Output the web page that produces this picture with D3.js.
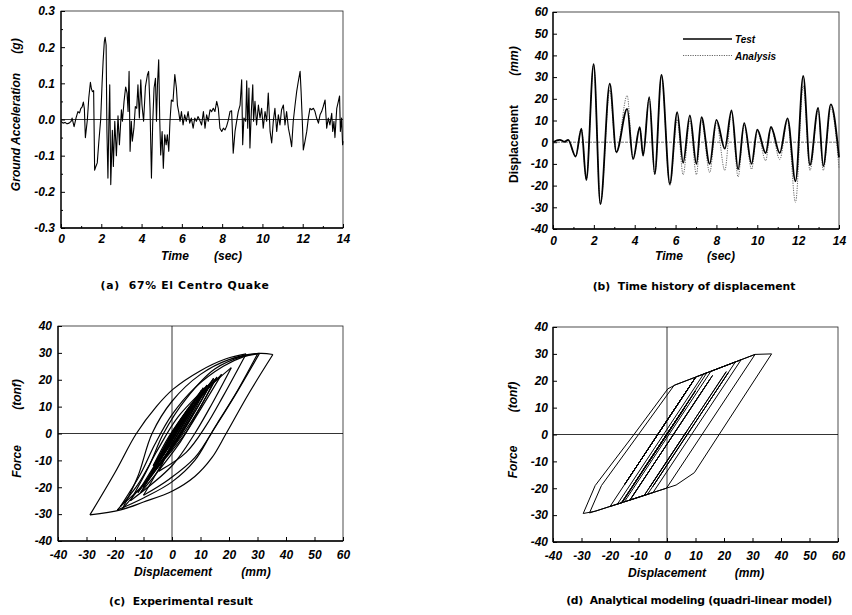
<!DOCTYPE html>
<html><head><meta charset="utf-8">
<script src="https://cdn.jsdelivr.net/npm/d3@7"></script>
<style>
body{margin:0;background:#fff;}
svg{display:block;font-family:"Liberation Sans",Arial,sans-serif;}
.tick text{font-size:12px;font-weight:bold;font-style:italic;fill:#000;}
.tick line{stroke:#000;}
.cap{font-family:"DejaVu Sans",sans-serif;white-space:pre;}
</style></head><body>
<svg id="chart" width="852" height="615"></svg>
<script>
// ---------- DATA ----------
const timeTicks = [0,2,4,6,8,10,12,14];
const timeMinor = [1,3,5,7,9,11,13];
const accTicks = [-0.3,-0.2,-0.1,0,0.1,0.2,0.3];
const accMinor = [-0.25,-0.15,-0.05,0.05,0.15,0.25];
const dispTicks = [-40,-30,-20,-10,0,10,20,30,40,50,60];
const forceTicks = [-40,-30,-20,-10,0,10,20,30,40];
const hystDispTicks = [-40,-30,-20,-10,0,10,20,30,40,50,60];

// (a) ground acceleration (g)
const accTime = [0,0.1,0.2,0.3,0.4,0.5,0.55,0.65,0.75,0.84,0.92,0.98,1.05,1.11,1.16,1.21,1.31,1.38,1.46,1.51,1.56,1.62,1.67,1.73,1.80,1.88,1.97,2.04,2.09,2.15,2.19,2.24,2.28,2.33,2.38,2.42,2.47,2.55,2.6,2.67,2.75,2.83,2.9,3.0,3.05,3.13,3.21,3.28,3.33,3.38,3.43,3.49,3.54,3.62,3.69,3.76,3.82,3.89,3.96,4.02,4.1,4.19,4.29,4.35,4.42,4.49,4.55,4.62,4.69,4.74,4.79,4.85,4.9,4.95,5.02,5.08,5.15,5.22,5.28,5.35,5.41,5.48,5.56,5.65,5.73,5.78,5.84,5.91,5.98,6.06,6.14,6.22,6.31,6.39,6.47,6.56,6.64,6.72,6.8,6.88,6.98,7.07,7.15,7.23,7.31,7.40,7.48,7.56,7.64,7.73,7.81,7.89,7.98,8.06,8.14,8.22,8.31,8.39,8.47,8.55,8.64,8.72,8.80,8.89,8.97,9.02,9.08,9.17,9.22,9.27,9.33,9.38,9.45,9.52,9.56,9.63,9.71,9.80,9.88,9.96,10.04,10.13,10.21,10.29,10.38,10.46,10.54,10.62,10.71,10.79,10.87,10.95,11.04,11.12,11.20,11.29,11.37,11.45,11.53,11.62,11.70,11.78,11.87,11.92,11.98,12.03,12.11,12.20,12.28,12.36,12.44,12.53,12.61,12.69,12.78,12.86,12.94,13.02,13.11,13.19,13.27,13.35,13.44,13.49,13.55,13.60,13.69,13.77,13.83,13.87,13.93,13.98,14.0];
const accValue = [-0.005,-0.01,-0.008,-0.012,-0.01,-0.005,0.004,-0.02,0.005,0.022,0.018,0.03,0.035,0.048,0.03,-0.05,0.0,0.06,0.103,0.085,0.077,0.08,-0.14,-0.13,-0.12,-0.06,0.0,0.1,0.16,0.215,0.227,0.206,-0.033,-0.162,0.0,0.096,-0.18,-0.03,-0.13,-0.005,-0.1,0.01,-0.07,0.027,-0.005,0.05,0.09,0.073,0.022,0.133,-0.088,-0.005,-0.06,-0.024,0.036,0.031,0.096,0.004,0.11,0.04,-0.005,0.09,0.123,0.133,0.031,-0.162,-0.015,0.087,0.114,-0.005,0.096,0.165,0.004,-0.098,-0.033,-0.135,-0.042,-0.07,-0.042,-0.088,-0.005,0.054,0.05,0.124,0.087,0.04,0.022,-0.005,0.022,-0.015,0.013,-0.005,0.022,-0.01,0.004,-0.024,0.004,-0.005,0.008,-0.001,-0.015,0.022,-0.024,0.013,-0.005,0.027,0.022,0.031,0.022,0.05,0.031,-0.024,-0.033,-0.024,-0.029,-0.019,-0.001,0.022,0.024,-0.093,-0.033,-0.005,0.022,0.04,0.11,-0.07,0.004,-0.005,0.107,-0.024,0.087,-0.079,0.022,0.096,-0.005,0.05,-0.015,0.04,0.004,0.031,-0.024,0.022,-0.005,0.073,-0.033,-0.065,-0.005,0.031,-0.033,0.013,-0.015,0.027,0.04,-0.015,0.022,-0.024,-0.047,-0.075,-0.005,0.04,0.077,0.105,0.133,0.077,-0.005,-0.084,-0.061,-0.033,0.004,0.031,0.027,0.031,0.022,0.004,-0.01,0.013,0.022,0.036,0.054,-0.024,0.004,-0.015,0.017,-0.033,-0.005,-0.05,0.031,0.05,0.065,-0.033,0.004,-0.07,-0.06];

// (b) displacement time history (mm), extrema
const testTime = [0,0.33,0.57,0.74,1.11,1.39,1.63,1.99,2.32,2.78,3.10,3.63,3.92,4.25,4.41,4.71,4.98,5.31,5.72,6.08,6.37,6.70,7.02,7.27,7.67,8.0,8.41,8.74,9.06,9.36,9.72,10.0,10.41,10.67,11.1,11.48,11.87,12.25,12.58,12.98,13.23,13.6,14.0];
const testDisp = [0,1.1,0.2,1.1,-6.6,6.2,-17.4,36,-28.5,27,-4.6,15.4,-7.7,6.9,-6.2,20.8,-14.6,31,-19.2,13.8,-9.5,12.3,-10,11.5,-10,10.3,-3,14.6,-12.5,8.8,-10,5.8,-5,7,-5,11,-18,30.5,-10.5,15.8,-11,17.4,-7];
const analysisTime = [0,0.33,0.57,0.74,1.11,1.39,1.63,1.99,2.32,2.78,3.10,3.63,3.92,4.25,4.41,4.71,4.98,5.31,5.72,6.08,6.37,6.70,7.02,7.27,7.67,8.0,8.41,8.74,9.06,9.36,9.72,10.0,10.41,10.67,11.1,11.48,11.87,12.25,12.58,12.98,13.23,13.6,14.0];
const analysisDisp = [0,1.1,0.2,1.1,-6.6,6.2,-17.4,36,-28.5,24,-5,21.5,-8,7,-6,20.5,-15,30.5,-20,10.5,-15,10,-15,10,-14,9,-13,14,-16,8,-12.5,5,-8.5,6.5,-8,10,-27.7,26,-13,15,-13,16,-12];
const seriesNames = ["Test","Analysis"];

// (c) experimental hysteresis branches [disp mm, force tonf]
const hystTest = [
 [[0,0],[1,2]],
 [[1,2],[-2,-4],[-6.6,-12]],
 [[-6.6,-12],[-1,-1],[6.2,10]],
 [[6.2,10],[0,-3],[-8,-16],[-17.4,-28]],
 [[-17.4,-28],[-12,-16],[-7,0],[0,12],[10,22],[20,27.5],[30.7,29.8],[35.4,29.4]],
 [[35.4,29.4],[27,15],[19,0],[14,-9],[8,-16],[0,-21.5],[-10,-25.5],[-18,-28.4],[-28.8,-30.3]],
 [[-28.8,-30.3],[-20,-14.5],[-12.5,0],[-5.5,10],[0.4,16.5],[9.7,23.2],[19,27.8],[26,29.6]],
 [[26,29.6],[18,14],[12,3],[5,-7],[-4.6,-14]],
 [[-4.6,-14],[0,-4],[6,7],[15,20]],
 [[15,20],[10,10],[4,0],[-7.7,-16]],
 [[-7.7,-16],[-2,-5],[6.9,10]],
 [[6.9,10],[2,1],[-6.2,-12]],
 [[-6.2,-12],[0,0],[8,12],[20.8,24.5]],
 [[20.8,24.5],[14,11],[8,0],[0,-12],[-14.6,-25]],
 [[-14.6,-25],[-8,-12],[-3,0],[5,13],[15,24],[25,28.8],[30.7,29.8]],
 [[30.7,29.8],[22,14],[13.8,0],[8,-10],[0,-18],[-10,-24],[-19.2,-28.5]],
 [[-19.2,-28.5],[-12,-19],[-5,-6],[2,6],[13.8,19]],
 [[13.8,19],[8,8],[2,-2],[-9,-18]],
 [[-9,-18],[-3,-6],[3,5],[12.3,18]],
 [[12.3,18],[6,5],[0,-5],[-10,-20]],
 [[-10,-20],[-2,-6],[4,6],[11.5,17]],
 [[11.5,17],[5,4],[-1,-6],[-10,-19.5]],
 [[-10,-19.5],[-3,-7],[3,4],[10.3,16]],
 [[10.3,16],[4,3],[-3,-8]],
 [[-3,-8],[3,3],[8,11],[14.6,20.5]],
 [[14.6,20.5],[8,8],[1,-4],[-12,-22]],
 [[-12,-22],[-5,-10],[1,0],[8.5,13]],
 [[8.5,13],[3,3],[-3,-7],[-10,-20]],
 [[-10,-20],[-3,-7],[5.5,9]],
 [[5.5,9],[0,-1],[-6,-12]],
 [[-6,-12],[0,-1],[6.9,11]],
 [[6.9,11],[1,0],[-5,-10]],
 [[-5,-10],[1,2],[11,17]],
 [[11,17],[5,4],[-2,-8],[-10,-19],[-18,-27]],
 [[-18,-27],[-11,-15],[-6,-4],[0,7],[8,17],[18,25],[25,28.5],[30,29.6]],
 [[30,29.6],[23,16],[16,4],[8,-9],[-1,-17],[-10,-23]],
 [[-10,-23],[-4,-12],[2,0],[8,11],[15.8,21]],
 [[15.8,21],[9,8],[3,-3],[-11,-22]],
 [[-11,-22],[-5,-11],[1,0],[8,11],[17.4,22]],
 [[17.4,22],[10,9],[4,-1],[-7,-15]]
];

// (d) analytical quadri-linear hysteresis branches
const hystModel = [
 [[0,0],[1,1.6]],
 [[1,1.6],[-6.6,-10.6]],
 [[-6.6,-10.6],[6.2,9.9]],
 [[6.2,9.9],[-15.8,-25.4],[-17.4,-25.9]],
 [[-17.4,-25.9],[12.85,22.5],[30.9,29.8],[36.7,30]],
 [[36.7,30],[18.3,0],[9.6,-14.2],[3.2,-18.8],[-25,-28.5],[-29.4,-29.4]],
 [[-29.4,-29.4],[-25.2,-19],[-11.6,0],[0.3,17],[3,18.5],[24,27]],
 [[24,27],[-5,-19.4]],
 [[-5,-19.4],[21.5,23]],
 [[21.5,23],[-6.8,-22.2],[-8,-22.7]],
 [[-8,-22.7],[7,1.3]],
 [[7,1.3],[-6,-19.5]],
 [[-6,-19.5],[20.8,23.4]],
 [[20.8,23.4],[-8,-22.65],[-15,-25.1]],
 [[-15,-25.1],[15.4,23.5],[30.9,29.8]],
 [[30.9,29.8],[12.3,0],[-0.2,-20],[-20,-26.8]],
 [[-20,-26.8],[9,19.6]],
 [[9,19.6],[-15,-18.8]],
 [[-15,-18.8],[10,21.2]],
 [[10,21.2],[-15,-18.8]],
 [[-15,-18.8],[10,21.2]],
 [[10,21.2],[-14,-17.2]],
 [[-14,-17.2],[9,19.6]],
 [[9,19.6],[-13,-15.6]],
 [[-13,-15.6],[10.1,21.4],[14,23]],
 [[14,23],[-15.7,-25.3],[-16,-25.4]],
 [[-16,-25.4],[8,13]],
 [[8,13],[-12,-19]],
 [[-12,-19],[5,8.2]],
 [[5,8.2],[-8.5,-13.4]],
 [[-8.5,-13.4],[7,11.4]],
 [[7,11.4],[-8,-12.6]],
 [[-8,-12.6],[10,16.2]],
 [[10,16.2],[-16,-25.4],[-27.2,-29.2]],
 [[-27.2,-29.2],[-23,-19],[-10,0],[2.5,18.3],[26,27.8]],
 [[26,27.8],[-4.9,-21.6],[-13,-24.4]],
 [[-13,-24.4],[15,20.4]],
 [[15,20.4],[-13,-24.4]],
 [[-13,-24.4],[16,22]],
 [[16,22],[-12,-22.8]]
];

// ---------- DRAW ----------
const svg = d3.select("#chart");
svg.append("rect").attr("width",852).attr("height",615).attr("fill","#fff");

function panel(o){
  const g = svg.append("g");
  const x = d3.scaleLinear().domain(o.xd).range([o.L,o.R]);
  const y = d3.scaleLinear().domain(o.yd).range([o.B,o.T]);
  g.append("rect").attr("x",o.L).attr("y",o.T).attr("width",o.R-o.L).attr("height",o.B-o.T)
    .attr("fill","none").attr("stroke","#222").attr("stroke-width",0.8);
  g.append("line").attr("x1",o.L).attr("x2",o.L).attr("y1",o.T).attr("y2",o.B).attr("stroke","#000").attr("stroke-width",1.3);
  g.append("line").attr("x1",o.L).attr("x2",o.R).attr("y1",o.B).attr("y2",o.B).attr("stroke","#000").attr("stroke-width",1.3);
  const xa = g.append("g").attr("transform",`translate(0,${o.B})`)
    .call(d3.axisBottom(x).tickValues(o.xt).tickSize(-4).tickPadding(o.xpad).tickFormat(o.xf));
  xa.select(".domain").remove();
  const ya = g.append("g").attr("transform",`translate(${o.L},0)`)
    .call(d3.axisLeft(y).tickValues(o.yt).tickSize(-4).tickPadding(o.ypad).tickFormat(o.yf));
  ya.select(".domain").remove();
  if(o.xm){ const m=g.append("g").attr("transform",`translate(0,${o.B})`).call(d3.axisBottom(x).tickValues(o.xm).tickSize(-2).tickFormat(""));m.select(".domain").remove();}
  if(o.ym){ const m=g.append("g").attr("transform",`translate(${o.L},0)`).call(d3.axisLeft(y).tickValues(o.ym).tickSize(-2).tickFormat(""));m.select(".domain").remove();}
  return {g,x,y};
}
function txt(x,y,s,opt){
  opt=opt||{};
  const t = svg.append("text").attr("x",x).attr("y",y).text(s)
    .attr("font-size",opt.size||12).attr("font-weight","bold")
    .attr("font-style",opt.italic===false?"normal":"italic")
    .attr("text-anchor",opt.anchor||"middle").attr("fill","#000");
  if(opt.rot) t.attr("transform",`rotate(-90,${x},${y})`);
  return t;
}
function caption(x,y,s,ls){
  return svg.append("text").attr("class","cap").attr("x",x).attr("y",y).text(s)
    .attr("xml:space","preserve")
    .attr("font-size",10.8).attr("font-weight","bold").attr("text-anchor","middle")
    .attr("letter-spacing",ls||0).attr("fill","#000");
}
const intFmt = d=>String(d);

// Panel A
const A = panel({L:61,R:343,T:11,B:228,xd:[0,14],yd:[-0.3,0.3],xt:timeTicks,yt:accTicks,xm:timeMinor,ym:accMinor,
  xpad:6,ypad:6,xf:intFmt,yf:d=>d.toFixed(1)});
A.g.append("line").attr("x1",A.x(0)).attr("x2",A.x(14)).attr("y1",A.y(0)).attr("y2",A.y(0)).attr("stroke","#000").attr("stroke-width",0.8);
A.g.append("path").datum(d3.range(accTime.length))
  .attr("d",d3.line().x(i=>A.x(accTime[i])).y(i=>A.y(accValue[i])))
  .attr("fill","none").attr("stroke","#000").attr("stroke-width",1.1).attr("stroke-linejoin","round");
txt(175,260,"Time"); txt(228,260,"(sec)");
txt(20,132,"Ground Acceleration",{rot:true}); txt(20,46,"(g)",{rot:true});
caption(185,289,"(a)  67% El Centro Quake",0.7);

// Panel B
const B = panel({L:553,R:839,T:12,B:229,xd:[0,14],yd:[-40,60],xt:timeTicks,yt:dispTicks,xm:timeMinor,
  xpad:7.5,ypad:5,xf:intFmt,yf:intFmt});
B.g.append("line").attr("x1",B.x(0)).attr("x2",B.x(14)).attr("y1",B.y(0)).attr("y2",B.y(0)).attr("stroke","#333").attr("stroke-width",0.7).attr("stroke-dasharray","3,1");
B.g.append("path").datum(d3.range(analysisTime.length))
  .attr("d",d3.line().curve(d3.curveMonotoneX).x(i=>B.x(analysisTime[i])).y(i=>B.y(analysisDisp[i])))
  .attr("fill","none").attr("stroke","#666").attr("stroke-width",1).attr("stroke-dasharray","1.2,1.2");
B.g.append("path").datum(d3.range(testTime.length))
  .attr("d",d3.line().curve(d3.curveMonotoneX).x(i=>B.x(testTime[i])).y(i=>B.y(testDisp[i])))
  .attr("fill","none").attr("stroke","#000").attr("stroke-width",1.8);
svg.append("line").attr("x1",683).attr("x2",732).attr("y1",39).attr("y2",39).attr("stroke","#000").attr("stroke-width",1.4);
svg.append("line").attr("x1",683).attr("x2",732).attr("y1",55.5).attr("y2",55.5).attr("stroke","#666").attr("stroke-width",1).attr("stroke-dasharray","1.2,1.2");
txt(735,43,seriesNames[0],{anchor:"start",size:10});
txt(735,59.5,seriesNames[1],{anchor:"start",size:10});
txt(669,260,"Time"); txt(721,260,"(sec)");
svg.append("text").attr("x",518).attr("y",144).attr("transform","rotate(-90,518,144)").text("Displacement")
  .attr("font-size",12).attr("font-weight","bold").attr("text-anchor","middle");
txt(518,61,"(mm)",{rot:true});
caption(694,290,"(b)  Time history of displacement");

// Panel C
const C = panel({L:58,R:343,T:326,B:541,xd:[-40,60],yd:[-40,40],xt:hystDispTicks,yt:forceTicks,
  xpad:9.5,ypad:6,xf:intFmt,yf:intFmt});
function cross(P){
  P.g.append("line").attr("x1",P.x(-40)).attr("x2",P.x(60)).attr("y1",P.y(0)).attr("y2",P.y(0)).attr("stroke","#000").attr("stroke-width",0.8);
  P.g.append("line").attr("x1",P.x(0)).attr("x2",P.x(0)).attr("y1",P.y(40)).attr("y2",P.y(-40)).attr("stroke","#000").attr("stroke-width",0.8);
}
cross(C);
const lineC = d3.line().curve(d3.curveCatmullRom.alpha(0.5)).x(d=>C.x(d[0])).y(d=>C.y(d[1]));
C.g.selectAll("path.hc").data(hystTest).join("path").attr("class","hc").attr("d",lineC)
  .attr("fill","none").attr("stroke","#000").attr("stroke-width",1.2);
txt(173,576,"Displacement"); txt(256,576,"(mm)");
txt(21,461.5,"Force",{rot:true}); txt(21,394.5,"(tonf)",{rot:true});
caption(181,605,"(c)  Experimental result");

// Panel D
const D = panel({L:553,R:838,T:327,B:542,xd:[-40,60],yd:[-40,40],xt:hystDispTicks,yt:forceTicks,
  xpad:9,ypad:5,xf:intFmt,yf:intFmt});
cross(D);
const lineD = d3.line().x(d=>D.x(d[0])).y(d=>D.y(d[1]));
D.g.selectAll("path.hd").data(hystModel).join("path").attr("class","hd").attr("d",lineD)
  .attr("fill","none").attr("stroke","#000").attr("stroke-width",1).attr("stroke-linejoin","round");
txt(667,576.5,"Displacement"); txt(749.5,576.5,"(mm)");
txt(517,462,"Force",{rot:true}); txt(517,397,"(tonf)",{rot:true});
caption(699,604,"(d)  Analytical modeling (quadri-linear model)",-0.3);
</script>
</body></html>
